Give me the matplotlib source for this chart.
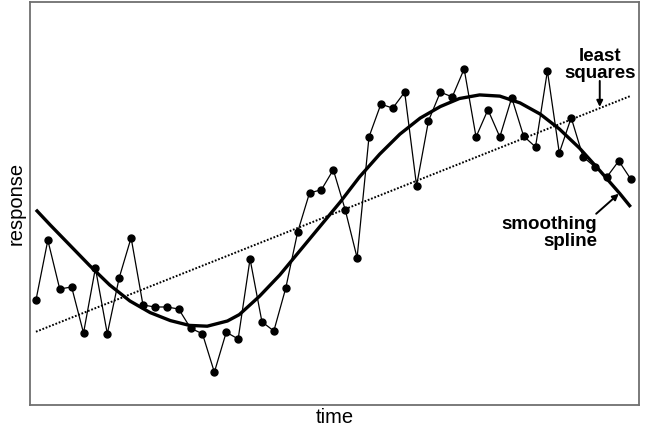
import matplotlib
matplotlib.use("Agg")
import matplotlib.pyplot as plt
import numpy as np

plt.rcParams['font.family'] = ['Liberation Sans', 'DejaVu Sans']

# observations
time = np.arange(51)
response = [2.62, 4.12, 2.90, 2.95, 1.80, 3.42, 1.78, 3.18, 4.18, 2.50,
            2.45, 2.45, 2.40, 1.92, 1.78, 0.82, 1.82, 1.65, 3.65, 2.08,
            1.85, 2.92, 4.32, 5.30, 5.38, 5.88, 4.88, 3.68, 6.70, 7.52,
            7.42, 7.82, 5.48, 7.10, 7.82, 7.70, 8.40, 6.70, 7.38, 6.70,
            7.68, 6.72, 6.45, 8.35, 6.30, 7.18, 6.20, 5.95, 5.70, 6.10,
            5.65]

# smoothing spline
spline_t = [0, 1.2, 2.9, 4.5, 6.2, 7.9, 9.6, 11.3, 12.9, 14.4, 16.1, 17.1,
            18.8, 20.5, 22.2, 23.9, 25.6, 27.2, 28.9, 30.6, 32.3, 34.0,
            35.6, 37.3, 39.0, 40.7, 42.4, 44.0, 45.7, 47.4, 49.1, 50]
spline_y = [4.88, 4.50, 3.98, 3.49, 3.00, 2.60, 2.31, 2.11, 1.99, 1.97,
            2.10, 2.26, 2.72, 3.25, 3.86, 4.47, 5.08, 5.70, 6.27, 6.77,
            7.17, 7.46, 7.66, 7.75, 7.72, 7.55, 7.27, 6.90, 6.42, 5.86,
            5.28, 4.95]

fig = plt.figure(figsize=(6.45, 4.30), dpi=100)
ax = fig.add_axes([0.0465, 0.0581, 0.9442, 0.9361])

# least squares line
coef = np.polyfit(time, response, 1)
ax.plot(time, np.polyval(coef, time), color='black', lw=1.4,
        linestyle=(0, (0.9, 0.9)))

ax.plot(spline_t, spline_y, color='black', lw=2.4,
        solid_joinstyle='round', solid_capstyle='butt')
ax.plot(time, response, color='black', lw=0.9, marker='o', ms=5)

# labels on the curves
ax.text(47.4, 8.08, 'least\nsquares', ha='center', va='bottom',
        fontsize=13.5, fontweight='bold', linespacing=1.0)
ax.annotate('', xy=(47.4, 7.45), xytext=(47.4, 8.1),
            arrowprops=dict(arrowstyle='-|>', color='black', lw=1.4,
                            mutation_scale=9, shrinkA=0, shrinkB=0))
ax.text(47.2, 4.72, 'smoothing\nspline', ha='right', va='top',
        fontsize=13.5, fontweight='bold', linespacing=1.0)
ax.annotate('', xy=(49.0, 5.28), xytext=(47.1, 4.78),
            arrowprops=dict(arrowstyle='-|>', color='black', lw=1.4,
                            mutation_scale=9, shrinkA=0, shrinkB=0))

ax.set_xlim(-0.5, 50.7)
ax.set_ylim(0, 10.06)
ax.set_xticks([])
ax.set_yticks([])
for s in ax.spines.values():
    s.set_color('#707070')
    s.set_linewidth(1.3)
ax.set_xlabel('time', fontsize=14.5, labelpad=2)
ax.set_ylabel('response', fontsize=14.5, labelpad=3)

fig.savefig("out.png", dpi=100)
